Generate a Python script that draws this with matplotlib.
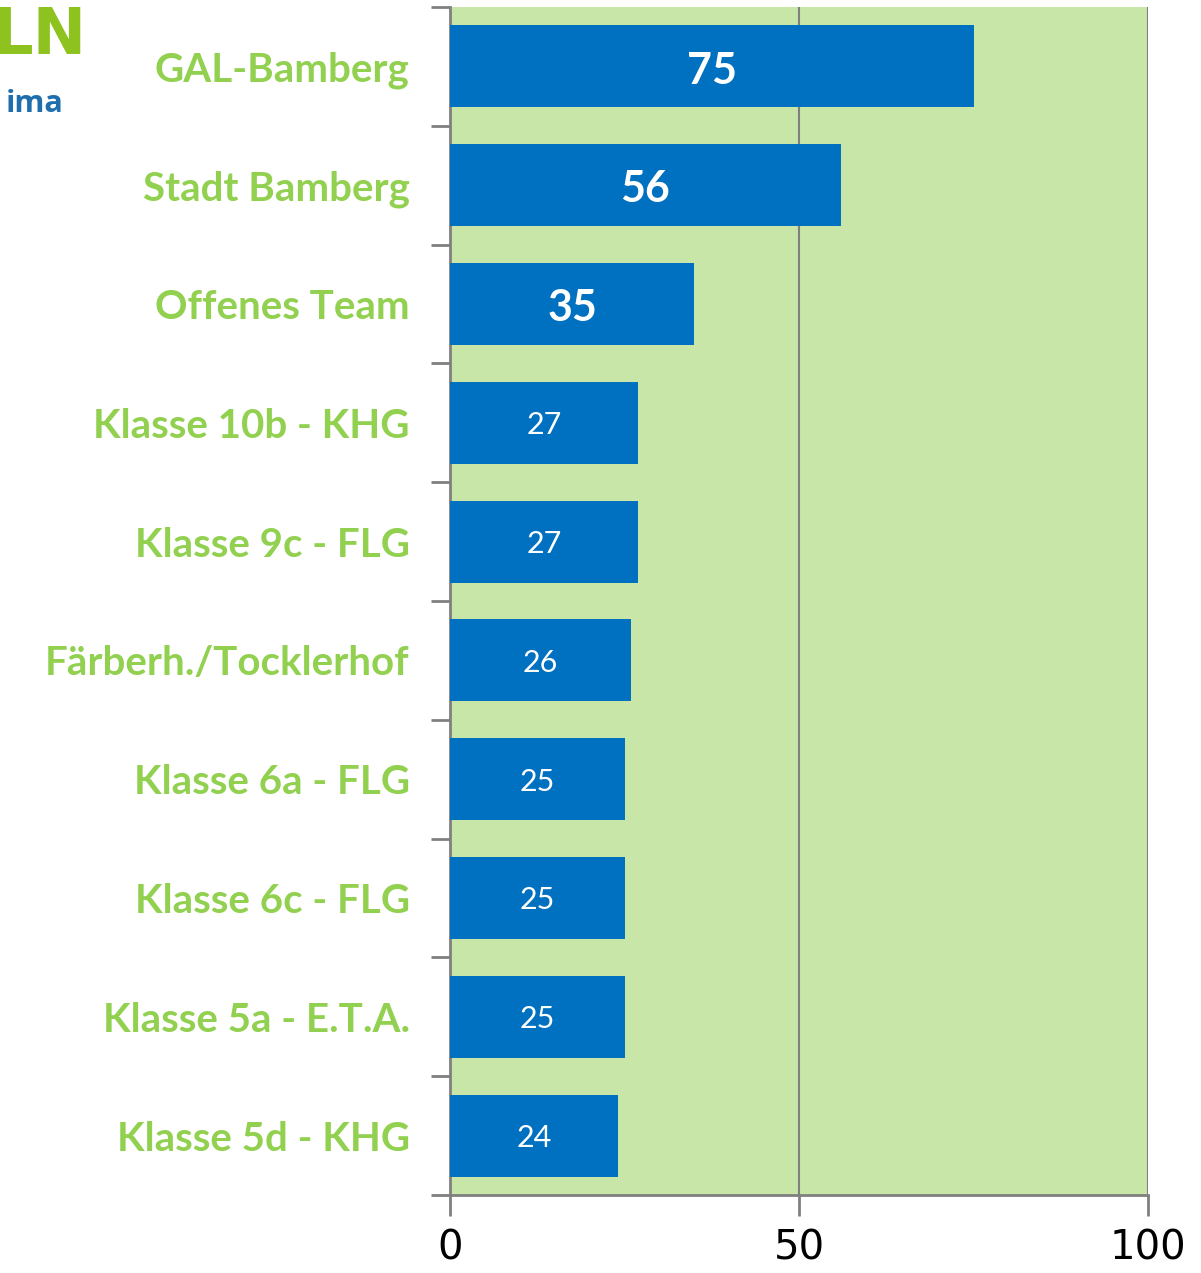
import numpy as np
import matplotlib.pyplot as plt

teams = ['GAL-Bamberg', 'Stadt Bamberg', 'Offenes Team', 'Klasse 10b - KHG',
         'Klasse 9c - FLG', 'Färberh./Tocklerhof', 'Klasse 6a - FLG',
         'Klasse 6c - FLG', 'Klasse 5a - E.T.A.', 'Klasse 5d - KHG']
werte = [75, 56, 35, 27, 27, 26, 25, 25, 25, 24]
xticks = [0, 50, 100]

gruen = '#92D050'
blau = '#0070C0'
grau = '#808080'

fig = plt.figure(figsize=(12.01, 12.73), dpi=100)
ax = fig.add_axes([450/1201, 1 - 1195/1273, 698/1201, 1188/1273])
ax.set_facecolor('#C8E6A7')

y = np.arange(len(teams))
ax.barh(y, werte, height=0.69, color=blau, zorder=3)
ax.set_ylim(len(teams) - 0.5, -0.5)
ax.set_xlim(0, 100)

for xv in [50, 100]:
    ax.axvline(xv, color=grau, lw=1.5, zorder=2)

for i, v in enumerate(werte):
    if i < 3:
        ax.text(v / 2, i + 0.035, str(v), color='white', ha='center', va='center',
                fontsize=31, fontweight='bold', family='Lato', zorder=4)
    else:
        ax.text(v / 2, i + 0.02, str(v), color='white', ha='center', va='center',
                fontsize=22, family='Lato', zorder=4)

for s in ['top', 'right', 'bottom']:
    ax.spines[s].set_visible(False)
ax.spines['left'].set_color(grau)
ax.spines['left'].set_linewidth(2)

ax.set_yticks(y)
ax.set_yticklabels(teams, fontsize=29, fontweight='bold', color=gruen, family='Lato')
ax.tick_params(axis='y', which='major', length=0, pad=29)
ax.set_yticks(np.arange(len(teams) + 1) - 0.5, minor=True)
ax.tick_params(axis='y', which='minor', length=14, width=2, color=grau)

ax.set_xticks(xticks)
ax.set_xticklabels([str(t) for t in xticks], fontsize=29, family='Liberation Sans Narrow')
ax.tick_params(axis='x', length=15, width=2, color=grau, pad=9)
ax.axhline(len(teams) - 0.5, color=grau, lw=2, zorder=2, clip_on=False)

# Reste des Logos am linken Rand
fig.text(86/1201, 1 - 54/1273, 'LN', color='#8DC21F', fontsize=46, fontweight='bold',
         ha='right', va='baseline', family='Liberation Sans Narrow')
fig.text(64/1201, 1 - 112/1273, 'ima', color='#1F6FAF', fontsize=22, fontweight='bold',
         ha='right', va='baseline', family='Open Sans')

fig.savefig('out.png', dpi=100)
